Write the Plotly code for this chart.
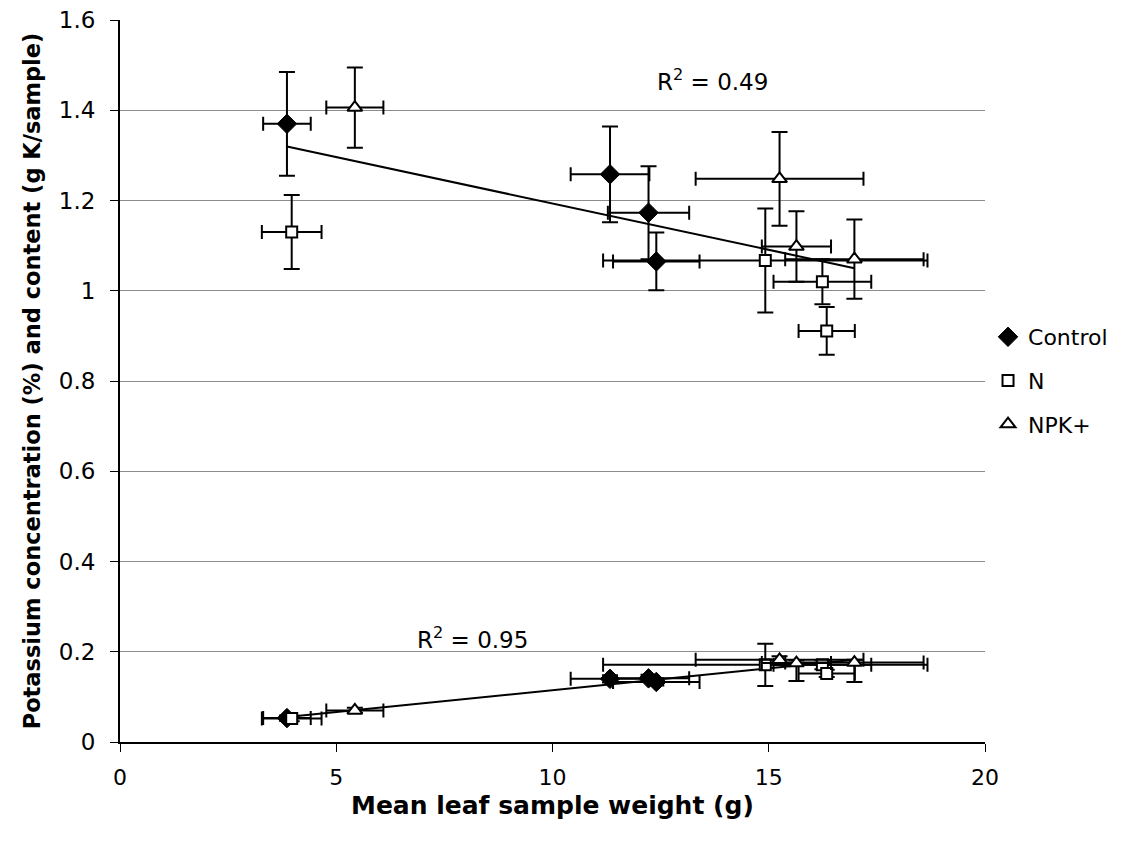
import numpy as np
import plotly.graph_objects as go

# Mean leaf sample weight (g) and its SD, per treatment
ctrl_w = [3.86, 11.33, 12.22, 12.40]
ctrl_w_sd = [0.55, 0.91, 0.94, 1.00]
n_w = [3.97, 14.92, 16.24, 16.34]
n_w_sd = [0.69, 3.75, 1.13, 0.65]
npk_w = [5.43, 15.25, 15.64, 16.98]
npk_w_sd = [0.66, 1.94, 0.80, 1.60]

# Potassium concentration (%) with SD
ctrl_conc = [1.370, 1.258, 1.173, 1.065]
ctrl_conc_sd = [0.115, 0.106, 0.103, 0.064]
n_conc = [1.130, 1.067, 1.020, 0.911]
n_conc_sd = [0.082, 0.115, 0.050, 0.053]
npk_conc = [1.406, 1.248, 1.098, 1.070]
npk_conc_sd = [0.089, 0.104, 0.078, 0.088]

# Potassium content (g K/sample) with SD (upper / lower)
ctrl_cont = [0.053, 0.140, 0.141, 0.133]
ctrl_cont_up = [0.006, 0.008, 0.008, 0.008]
ctrl_cont_dn = [0.006, 0.008, 0.008, 0.008]
n_cont = [0.052, 0.171, 0.171, 0.152]
n_cont_up = [0.006, 0.047, 0.010, 0.008]
n_cont_dn = [0.006, 0.047, 0.010, 0.008]
npk_cont = [0.070, 0.182, 0.175, 0.176]
npk_cont_up = [0.006, 0.008, 0.006, 0.006]
npk_cont_dn = [0.006, 0.010, 0.040, 0.043]

r2_conc_label = "R<sup>2</sup> = 0.49"
r2_cont_label = "R<sup>2</sup> = 0.95"
x_title = "<b>Mean leaf sample weight (g)</b>"
y_title = "<b>Potassium concentration (%) and content (g K/sample)</b>"

FONT = "DejaVu Sans"

fig = go.Figure()

# Linear trend lines through all treatments
all_w = np.array(ctrl_w + n_w + npk_w)
for ys in (ctrl_conc + n_conc + npk_conc, ctrl_cont + n_cont + npk_cont):
    k, b = np.polyfit(all_w, np.array(ys), 1)
    xs = np.array([all_w.min(), all_w.max()])
    fig.add_trace(go.Scatter(x=xs, y=k * xs + b, mode="lines",
                             line=dict(color="black", width=2),
                             showlegend=False, hoverinfo="skip"))

groups = [
    ("Control", ctrl_w, ctrl_w_sd, ctrl_conc, ctrl_conc_sd, ctrl_cont, ctrl_cont_up, ctrl_cont_dn,
     dict(symbol="diamond", size=15, color="black", line=dict(color="black", width=1))),
    ("N", n_w, n_w_sd, n_conc, n_conc_sd, n_cont, n_cont_up, n_cont_dn,
     dict(symbol="square", size=11, color="white", line=dict(color="black", width=2))),
    ("NPK+", npk_w, npk_w_sd, npk_conc, npk_conc_sd, npk_cont, npk_cont_up, npk_cont_dn,
     dict(symbol="triangle-up", size=13, color="white", line=dict(color="black", width=2))),
]

for name, w, wsd, conc, csd, cont, cup, cdn, mk in groups:
    fig.add_trace(go.Scatter(
        x=w + w, y=conc + cont, mode="markers", name=name, legendgroup=name, marker=mk,
        error_x=dict(type="data", array=wsd + wsd, color="black", thickness=2, width=7),
        error_y=dict(type="data", array=csd + cup, arrayminus=csd + cdn,
                     color="black", thickness=2, width=8),
    ))

fig.add_annotation(x=12.37, y=1.467, text=r2_conc_label, showarrow=False,
                   xanchor="left", yanchor="middle",
                   font=dict(family=FONT, size=23, color="black"))
fig.add_annotation(x=6.82, y=0.23, text=r2_cont_label, showarrow=False,
                   xanchor="left", yanchor="middle",
                   font=dict(family=FONT, size=23, color="black"))

# x-axis title placed below the tick labels
fig.add_annotation(x=0.5, y=-0.088, xref="paper", yref="paper", text=x_title,
                   showarrow=False, xanchor="center", yanchor="middle",
                   font=dict(family=FONT, size=25, color="black"))

fig.update_layout(
    width=1124, height=842,
    margin=dict(l=120, r=139, t=20, b=100, autoexpand=False),
    paper_bgcolor="white", plot_bgcolor="white",
    font=dict(family=FONT, size=22, color="black"),
    legend=dict(x=1.0035, y=0.59, xanchor="left", yanchor="top",
                font=dict(family=FONT, size=22, color="black"),
                bgcolor="rgba(0,0,0,0)", tracegroupgap=12, itemwidth=30),
    xaxis=dict(range=[0, 20], dtick=5, showgrid=False, zeroline=False,
               showline=True, linecolor="black", linewidth=2,
               ticks="outside", ticklen=8, tickcolor="black", ticklabelstandoff=7,
               tickfont=dict(family=FONT, size=22)),
    yaxis=dict(range=[0, 1.6], dtick=0.2, showgrid=True, gridcolor="#8c8c8c",
               gridwidth=1, zeroline=False,
               showline=True, linecolor="black", linewidth=2,
               ticks="outside", ticklen=8, tickcolor="black", ticklabelstandoff=10,
               tickfont=dict(family=FONT, size=23),
               title=dict(text=y_title, font=dict(family=FONT, size=22.5), standoff=12)),
)

fig.write_html("out.html")
